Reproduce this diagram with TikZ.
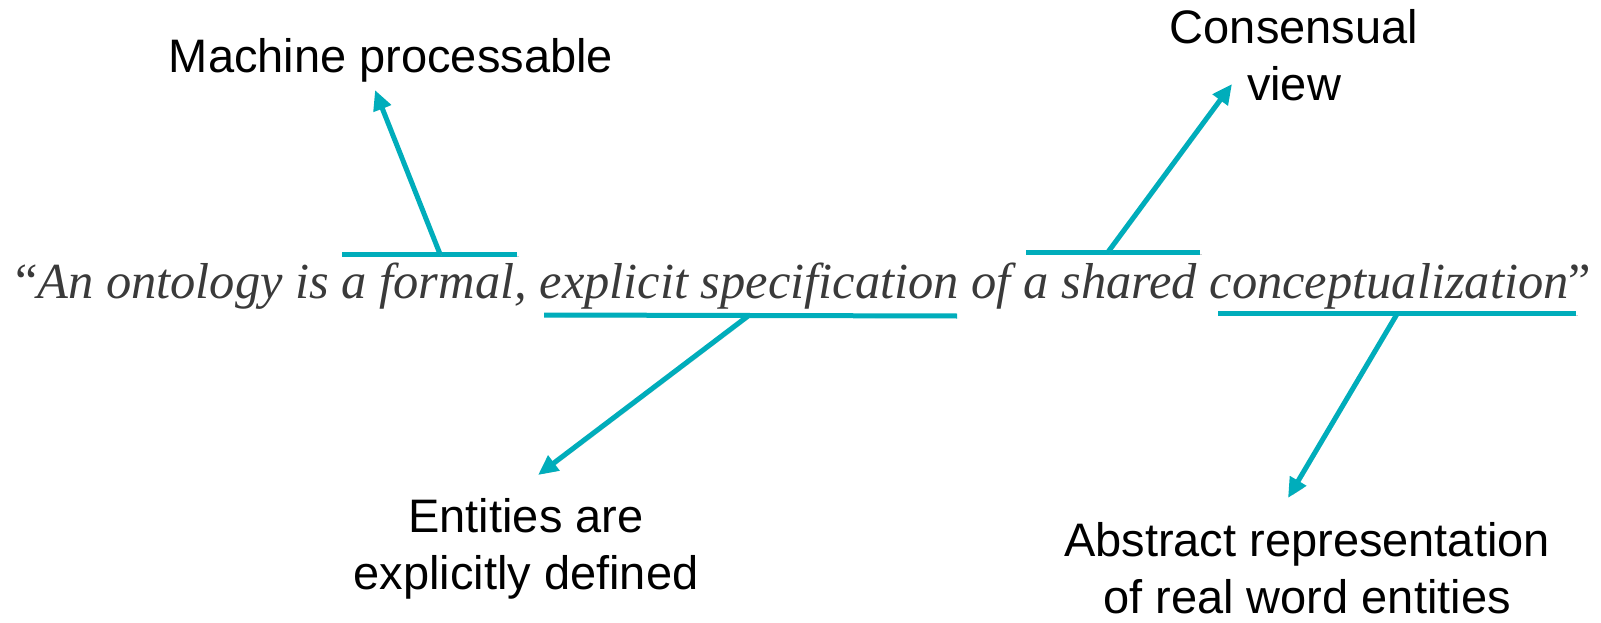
\documentclass[tikz,border=0pt]{standalone}
\usepackage{fontspec}
\setmainfont{Liberation Serif}
\setsansfont{Liberation Sans}
\usetikzlibrary{
  arrows.meta,
  positioning
}
\definecolor{tealline}{RGB}{0,173,187}
\definecolor{quotegray}{RGB}{58,58,58}

\begin{document}
\begin{tikzpicture}[
  x=1pt,
  y=-1pt,
  >={Triangle[length=20pt,width=18pt]},
  bar/.style={line width=5pt, tealline,
    preaction={draw=black!40, opacity=0.45,
      transform canvas={shift={(1.5pt,-2pt)}}}},
  pointer/.style={bar, ->},
  tagtext/.style={font=\sffamily\fontsize{47}{57}\selectfont,
    align=center, inner sep=0pt},
  quotetext/.style={font=\rmfamily\fontsize{50.5}{60}\selectfont,
    text=quotegray, inner sep=0pt},
  every node/.style={inner sep=0pt}
]

  % Page frame.
  \useasboundingbox (0,0) rectangle (1601,623);

  % The definition itself.
  \node[quotetext,anchor=base] (defn) at (803,298)
    {“\textit{An ontology is a formal, explicit specification
     of a shared conceptualization}”};

  % Comments around the definition (base = last line).
  \node[tagtext,anchor=base] (mach) at (391,73) {Machine processable};
  \node[tagtext,anchor=base] (cons) at (1294,101) {Consensual\\view};
  \node[tagtext,anchor=base] (enti) at (526,589)
    {Entities are\\explicitly defined};
  \node[tagtext,anchor=base] (abst) at (1307,613)
    {Abstract representation\\of real word entities};

  % Underlines and overlines on the key words.
  \coordinate (b1w) at (342,254);  \coordinate (b1e) at (517,254);
  \coordinate (b2w) at (544,315);  \coordinate (b2e) at (957,316);
  \coordinate (b3w) at (1026,252); \coordinate (b3e) at (1200,252);
  \coordinate (b4w) at (1218,313); \coordinate (b4e) at (1576,313);
  \draw[bar] (b1w) -- (b1e);
  \draw[bar] (b2w) -- (b2e);
  \draw[bar] (b3w) -- (b3e);
  \draw[bar] (b4w) -- (b4e);

  % Arrows from each line to its comment.
  \coordinate (b1m) at (440,254);  \coordinate (t1) at (375,90);
  \coordinate (b2m) at (748,316);  \coordinate (t2) at (538,475);
  \coordinate (b3m) at (1108,252); \coordinate (t3) at (1232,84);
  \coordinate (b4m) at (1397,314); \coordinate (t4) at (1288,498);
  \draw[pointer] (b1m) -- (t1);
  \draw[pointer] (b2m) -- (t2);
  \draw[pointer] (b3m) -- (t3);
  \draw[pointer] (b4m) -- (t4);

\end{tikzpicture}
\end{document}
